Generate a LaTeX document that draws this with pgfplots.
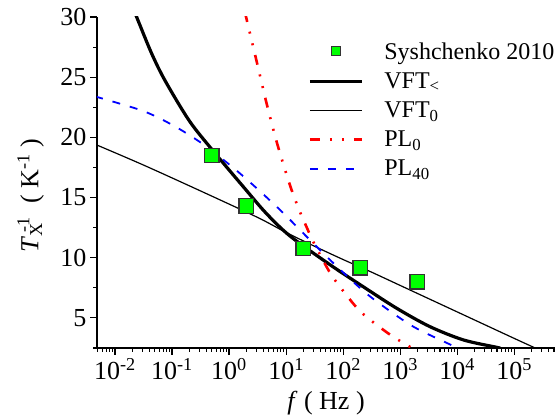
\documentclass[border=0pt]{standalone}
\usepackage{fontspec}
\setmainfont{Liberation Serif}
\usepackage{pgfplots}
\pgfplotsset{compat=1.18}
\definecolor{mkgreen}{RGB}{0,255,0}
\definecolor{plred}{RGB}{255,0,0}
\definecolor{plblue}{RGB}{0,0,255}

\begin{document}
\begin{tikzpicture}
\useasboundingbox (-97pt,-71pt) rectangle (458pt,348pt);
\begin{axis}[
    at={(0pt,0pt)}, anchor=south west,
    width=458pt, height=331pt, scale only axis,
    xmode=log, log basis x=10,
    xmin=4.84e-3, xmax=5.2e5,
    ymin=2.5, ymax=30,
    axis x line*=bottom, axis y line*=left,
    axis line style={line width=1.5pt},
    tick align=outside,
    major tick length=7pt, minor tick length=4pt,
    every tick/.style={black, line width=1.1pt},
    xtick={1e-2,1e-1,1,1e1,1e2,1e3,1e4,1e5},
    xticklabels={10\textsuperscript{-2},10\textsuperscript{-1},10\textsuperscript{0},
        10\textsuperscript{1},10\textsuperscript{2},10\textsuperscript{3},
        10\textsuperscript{4},10\textsuperscript{5}},
    minor xtick={5e-3,6e-3,7e-3,8e-3,9e-3,
        2e-2,3e-2,4e-2,5e-2,6e-2,7e-2,8e-2,9e-2,
        0.2,0.3,0.4,0.5,0.6,0.7,0.8,0.9,
        2,3,4,5,6,7,8,9,
        20,30,40,50,60,70,80,90,
        200,300,400,500,600,700,800,900,
        2000,3000,4000,5000,6000,7000,8000,9000,
        2e4,3e4,4e4,5e4,6e4,7e4,8e4,9e4,
        2e5,3e5,4e5,5e5},
    ytick={5,10,...,30},
    minor ytick={2.5,7.5,...,27.5},
    tick label style={font=\fontsize{26}{30}\selectfont},
    /pgf/number format/assume math mode=true,
    xlabel={\textit{f} ( Hz )},
    ylabel={\textit{T}\textsubscript{X}\kern-0.35em\textsuperscript{-1}\ \ ( K\textsuperscript{-1} )},
    label style={font=\fontsize{26}{30}\selectfont},
    x label style={at={(axis description cs:0.5,-0.166)}, anchor=center},
    y label style={at={(axis description cs:-0.145,0.46)}, anchor=center},
    legend style={draw=none, fill=none, at={(rel axis cs:0.4607,0.930)},
        anchor=north west, font=\fontsize{24}{28}\selectfont,
        inner sep=0pt, row sep=8pt, column sep=19pt},
    legend cell align=left,
    legend image code/.code={\draw[mark repeat=2,mark phase=2,#1]
        plot coordinates {(0pt,0pt)(26pt,0pt)(52pt,0pt)};},
]
% legend images, in the reference's order
\addlegendimage{only marks, mark=square*, mark size=4.5pt,
    mark options={fill=mkgreen, draw=black!80, line width=1pt}}
\addlegendentry{Syshchenko 2010}
\addlegendimage{draw=black, line width=3.2pt}
\addlegendentry{VFT\textsubscript{<}}
\addlegendimage{draw=black, line width=1.2pt}
\addlegendentry{VFT\textsubscript{0}}
\addlegendimage{draw=plred, line width=2.6pt,
    dash pattern=on 10pt off 10pt on 2pt off 10pt on 2pt off 10pt}
\addlegendentry{PL\textsubscript{0}}
\addlegendimage{draw=plblue, line width=1.8pt, dash pattern=on 8pt off 10pt}
\addlegendentry{PL\textsubscript{40}}
\addlegendimage{empty legend}
\addlegendentry{}

% VFT< (thick)
\addplot[black, line width=3.2pt, no markers, smooth, tension=0.5, forget plot] coordinates {
    (0.02188,30.45) (0.02399,30.0) (0.04365,27.0) (0.07586,24.7)
    (0.1995,21.4) (0.4898,19.05) (1.778,15.9) (4.467,13.7)
    (11.75,11.8) (58.88,9.42) (223.9,7.6) (871,5.8)
    (3311,4.28) (12882,3.17) (48978,2.56) (56234,2.5)
};
% VFT0 (thin)
\addplot[black, line width=1.2pt, no markers, smooth, tension=0.5, forget plot] coordinates {
    (0.00483,19.36) (0.0316,17.7) (0.316,15.55) (3.16,13.35)
    (10,12.1) (31.6,10.95) (100,9.85) (316,8.8) (1000,7.7)
    (1e4,5.5) (1e5,3.3) (2.34e5,2.5)
};
% PL0
\addplot[plred, line width=2.6pt, no markers, smooth, tension=0.5, forget plot,
    dash pattern=on 10pt off 10pt on 2pt off 10pt on 2pt off 10pt] coordinates {
    (1.9,30.4) (3.055,26.3) (4.571,22.8) (6.871,19.6) (11.75,16.0)
    (17.58,13.8) (22.91,12.55) (30.2,11.3) (54.95,9.0) (83.18,7.75)
    (199.5,5.55) (616.6,3.72) (1479,2.6) (1700,2.42)
};
% PL40
\addplot[plblue, line width=1.8pt, no markers, smooth, tension=0.5, forget plot,
    dash pattern=on 8pt off 10pt] coordinates {
    (0.0045,23.4) (0.0257,22.33) (0.0575,21.64) (0.1288,20.75)
    (0.2512,19.9) (0.4365,19.1) (1.191,17.47) (2.630,16.05)
    (5.248,14.75) (9.55,13.58) (21.38,11.9) (39.81,10.62)
    (83.18,9.14) (186.2,7.6) (389.0,6.36) (1698,4.28)
    (8511,2.67) (9333,2.5)
};
% Syshchenko 2010 data
\addplot[only marks, mark=square*, mark size=7.2pt, forget plot,
    mark options={fill=mkgreen, draw=black!80, line width=1.2pt}] coordinates {
    (0.5,18.5) (2,14.3) (20,10.75) (200,9.17) (2000,8.0)
};
\end{axis}
\end{tikzpicture}
\end{document}
